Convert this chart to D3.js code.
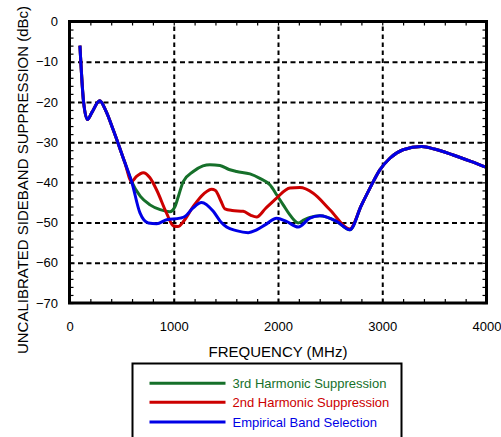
<!DOCTYPE html>
<html>
<head>
<meta charset="utf-8">
<script src="https://cdn.jsdelivr.net/npm/d3@7"></script>
<style>
  html, body { margin: 0; padding: 0; background: #fff; }
  svg { display: block; font-family: "Liberation Sans", Arial, sans-serif; }
</style>
</head>
<body>
<svg id="chart" width="501" height="437"></svg>
<script>
// ---- data ----
const xTicks = [0, 1000, 2000, 3000, 4000];
const yTicks = [0, -10, -20, -30, -40, -50, -60, -70];
const xTitle = "FREQUENCY (MHz)";
const yTitle = "UNCALIBRATED SIDEBAND SUPPRESSION (dBc)";
const seriesNames = ["3rd Harmonic Suppression", "2nd Harmonic Suppression", "Empirical Band Selection"];

const commonStart = [[100,-6],[135,-20],[172,-24.4],[215,-22.6],[290,-19.7],[350,-22.3],[420,-27],[530,-35],[596,-39.8]];
const commonEnd = [[2800,-45.7],[2881,-41.5],[2977,-36.9],[3073,-34],[3200,-31.9],[3377,-31.1],[3500,-31.7],[3680,-33.2],[3850,-34.8],[4000,-36.3]];

const thirdHarmonic = [[680,-43.5],[772,-45.6],[870,-46.8],[964,-47.3],[1012,-46],[1050,-43],[1091,-39.8],[1187,-37.3],[1280,-35.9],[1347,-35.6],[1443,-35.8],[1530,-36.8],[1603,-37.3],[1731,-37.9],[1826,-39],[1922,-40.6],[1990,-43.2],[2050,-45.6],[2114,-48.1],[2194,-50.1],[2250,-49.3],[2306,-48.7],[2402,-48.3],[2562,-49.7],[2689,-51.8]];
const secondHarmonic = [[640,-38.6],[708,-37.6],[770,-38.8],[836,-41.9],[932,-47.7],[995,-50.8],[1040,-51],[1100,-49.5],[1187,-46],[1290,-42.8],[1363,-41.7],[1400,-42],[1450,-44.5],[1491,-46.6],[1560,-47],[1666,-47.2],[1740,-48.2],[1795,-48.6],[1880,-46.5],[1987,-43.9],[2114,-41.4],[2210,-41.3],[2338,-42.7],[2498,-46.8],[2689,-51.6]];
const bandSelection = [[676,-47.6],[756,-50.1],[836,-50.3],[932,-49.3],[1059,-48.9],[1107,-48.5],[1180,-46.5],[1267,-45],[1379,-47.2],[1450,-49.8],[1507,-51.1],[1600,-52],[1714,-52.5],[1795,-51.8],[1880,-50.5],[1987,-48.9],[2080,-49.7],[2194,-51.1],[2306,-48.9],[2402,-48.3],[2562,-49.7],[2689,-51.8]];

const colors = ["#16702a", "#cc0000", "#0000e6"];

// ---- layout ----
const svg = d3.select("#chart");
const L = 69.5, R = 486.5, T = 21.5, B = 303;
const x = d3.scaleLinear().domain([0, 4000]).range([L, R]);
const y = d3.scaleLinear().domain([-70, 0]).range([B, T]);

const xMinor = d3.range(0, 4001, 200);
const yMinor = d3.range(-70, 0.1, 2);

// grid
const gridX = svg.append("g").attr("transform", `translate(0,${B})`)
  .call(d3.axisBottom(x).tickValues([1000, 2000, 3000]).tickSize(-(B - T)).tickFormat(""));
gridX.select(".domain").remove();
gridX.selectAll("line").attr("stroke", "#000").attr("stroke-width", 2).attr("stroke-dasharray", "4.5,3.5");

const gridY = svg.append("g").attr("transform", `translate(${L},0)`)
  .call(d3.axisLeft(y).tickValues([-10, -20, -30, -40, -50, -60]).tickSize(-(R - L)).tickFormat(""));
gridY.select(".domain").remove();
gridY.selectAll("line").attr("stroke", "#000").attr("stroke-width", 2).attr("stroke-dasharray", "5,3.5");

// minor ticks on all four sides
function minor(g) {
  g.select(".domain").remove();
  g.selectAll("line").attr("stroke", "#000").attr("stroke-width", 1.2);
}
svg.append("g").attr("transform", `translate(0,${B})`).call(d3.axisBottom(x).tickValues(xMinor).tickSize(-4).tickFormat("")).call(minor);
svg.append("g").attr("transform", `translate(0,${T})`).call(d3.axisTop(x).tickValues(xMinor).tickSize(-4).tickFormat("")).call(minor);
svg.append("g").attr("transform", `translate(${L},0)`).call(d3.axisLeft(y).tickValues(yMinor).tickSize(-4).tickFormat("")).call(minor);
svg.append("g").attr("transform", `translate(${R},0)`).call(d3.axisRight(y).tickValues(yMinor).tickSize(-4).tickFormat("")).call(minor);

// lines
const line = d3.line().x(d => x(d[0])).y(d => y(d[1])).curve(d3.curveMonotoneX);
const series = [thirdHarmonic, secondHarmonic, bandSelection];
series.forEach((s, i) => {
  svg.append("path")
    .datum(commonStart.concat(s, commonEnd))
    .attr("fill", "none")
    .attr("stroke", colors[i])
    .attr("stroke-width", 3)
    .attr("stroke-linejoin", "round")
    .attr("d", line);
});

// frame
svg.append("rect").attr("x", L).attr("y", T).attr("width", R - L).attr("height", B - T)
  .attr("fill", "none").attr("stroke", "#000").attr("stroke-width", 3);

// tick labels
const xLab = svg.append("g").attr("transform", `translate(0,${B})`)
  .call(d3.axisBottom(x).tickValues(xTicks).tickSize(0).tickPadding(19).tickFormat(d3.format("d")));
xLab.select(".domain").remove();
xLab.selectAll("text").attr("font-size", 13).attr("fill", "#000").attr("font-family", "Liberation Sans, Arial, sans-serif");

const yLab = svg.append("g").attr("transform", `translate(${L},0)`)
  .call(d3.axisLeft(y).tickValues(yTicks).tickSize(0).tickPadding(11.5).tickFormat(d3.format("d")));
yLab.select(".domain").remove();
yLab.selectAll("text").attr("font-size", 13).attr("fill", "#000").attr("font-family", "Liberation Sans, Arial, sans-serif");

// titles
svg.append("text").attr("x", (L + R) / 2).attr("y", 357).attr("text-anchor", "middle")
  .attr("font-size", 15).attr("fill", "#000").text(xTitle);
svg.append("text").attr("transform", "translate(28,180) rotate(-90)").attr("text-anchor", "middle")
  .attr("font-size", 15).attr("fill", "#000").text(yTitle);

// legend
svg.append("rect").attr("x", 132.5).attr("y", 363.5).attr("width", 269).attr("height", 100)
  .attr("fill", "#fff").attr("stroke", "#000").attr("stroke-width", 2);
const legY = [383.3, 402.3, 422];
seriesNames.forEach((name, i) => {
  svg.append("line").attr("x1", 149.5).attr("x2", 225.5).attr("y1", legY[i]).attr("y2", legY[i])
    .attr("stroke", colors[i]).attr("stroke-width", 3);
  svg.append("text").attr("x", 232.5).attr("y", legY[i]).attr("dy", "0.35em")
    .attr("font-size", 13).attr("fill", colors[i]).text(name);
});
</script>
</body>
</html>
